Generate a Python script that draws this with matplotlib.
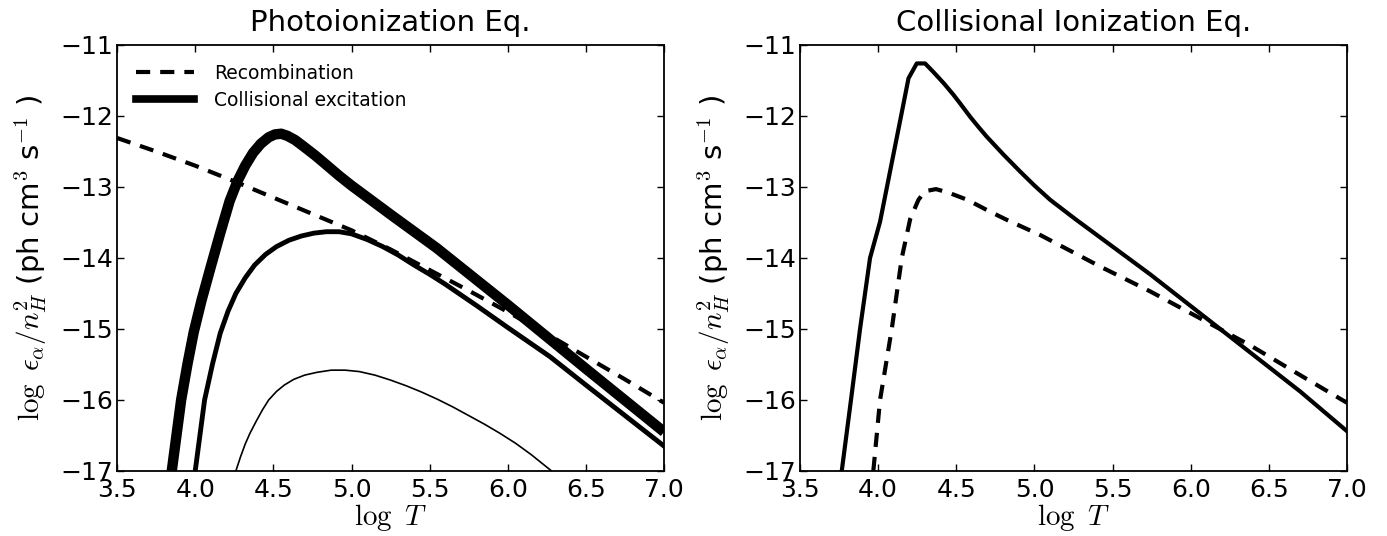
import numpy as np
import matplotlib
matplotlib.use('Agg')
import matplotlib.pyplot as plt
from matplotlib.lines import Line2D

plt.rcParams['mathtext.fontset'] = 'cm'
plt.rcParams['font.family'] = 'DejaVu Sans'

# Photoionization panel
recomb_x = [3.5, 3.75, 4.0, 4.25, 4.5, 4.75, 5.0, 5.25, 5.5, 5.75, 6.0, 6.25, 6.5, 6.75, 7.0]
recomb_y = [-12.31, -12.5, -12.7, -12.92, -13.15, -13.38, -13.61, -13.88, -14.17, -14.46,
            -14.76, -15.07, -15.39, -15.71, -16.04]

thick_x = [3.85, 3.88, 3.91, 3.95, 3.99, 4.04, 4.10, 4.16, 4.22, 4.27, 4.32, 4.37, 4.42,
           4.47, 4.51, 4.55, 4.59, 4.64, 4.70, 4.77, 4.84, 4.92, 5.0, 5.27, 5.545, 6.0,
           6.5, 7.0]
thick_y = [-17.0, -16.5, -16.0, -15.5, -15.05, -14.6, -14.12, -13.65, -13.2, -12.92, -12.7,
           -12.52, -12.39, -12.3, -12.26, -12.25, -12.28, -12.34, -12.44, -12.56, -12.69,
           -12.84, -12.98, -13.42, -13.86, -14.66, -15.56, -16.45]

mid_x = [4.0, 4.03, 4.06, 4.11, 4.16, 4.21, 4.26, 4.32, 4.38, 4.45, 4.52, 4.6, 4.68, 4.76,
         4.84, 4.92, 5.0, 5.1, 5.2, 5.3, 5.4, 5.5, 5.6, 5.8, 6.0, 6.27, 6.5, 6.75, 7.0]
mid_y = [-17.0, -16.5, -16.0, -15.5, -15.06, -14.75, -14.5, -14.28, -14.1, -13.95, -13.84,
         -13.75, -13.69, -13.65, -13.63, -13.63, -13.66, -13.74, -13.84, -13.96, -14.1,
         -14.23, -14.37, -14.67, -14.98, -15.39, -15.79, -16.22, -16.65]

thin_x = [4.26, 4.29, 4.32, 4.35, 4.39, 4.43, 4.47, 4.52, 4.57, 4.63, 4.70, 4.78, 4.87,
          4.96, 5.05, 5.15, 5.25, 5.35, 5.45, 5.55, 5.65, 5.75, 5.85, 5.95, 6.05, 6.15, 6.28]
thin_y = [-17.0, -16.8, -16.62, -16.47, -16.3, -16.14, -16.0, -15.88, -15.79, -15.71, -15.65,
          -15.61, -15.58, -15.58, -15.6, -15.65, -15.72, -15.8, -15.89, -15.99, -16.1,
          -16.22, -16.34, -16.47, -16.61, -16.77, -17.0]

# Collisional ionization panel
cie_solid_x = [3.767, 3.826, 3.884, 3.948, 4.012, 4.152, 4.194, 4.247, 4.30, 4.353, 4.42,
               4.481, 4.53, 4.588, 4.64, 4.694, 4.8, 4.907, 5.0, 5.1, 5.26, 5.42, 5.58,
               5.74, 6.06, 6.38, 6.70, 7.0]
cie_solid_y = [-17.0, -16.0, -15.0, -14.0, -13.49, -11.94, -11.47, -11.26, -11.26, -11.38,
               -11.54, -11.70, -11.84, -12.01, -12.15, -12.29, -12.54, -12.78, -12.98,
               -13.18, -13.45, -13.71, -13.97, -14.23, -14.78, -15.33, -15.88, -16.44]

cie_dash_x = [3.969, 4.012, 4.087, 4.151, 4.205, 4.258, 4.30, 4.37, 4.45, 4.57, 4.7, 4.82,
              5.04, 5.23, 5.42, 5.74, 6.06, 6.38, 6.70, 7.0]
cie_dash_y = [-17.0, -16.0, -15.0, -14.0, -13.45, -13.18, -13.06, -13.03, -13.08, -13.18,
              -13.33, -13.46, -13.68, -13.9, -14.12, -14.47, -14.85, -15.23, -15.65, -16.04]

xticks = [3.5, 4.0, 4.5, 5.0, 5.5, 6.0, 6.5, 7.0]
yticks = [-17, -16, -15, -14, -13, -12, -11]

dash = (0, (3.4, 2.4))

fig = plt.figure(figsize=(13.87, 5.36), dpi=100)
ax1 = fig.add_axes([0.0844, 0.1213, 0.3944, 0.7948])
ax2 = fig.add_axes([0.5768, 0.1213, 0.3944, 0.7948])

ax1.plot(recomb_x, recomb_y, color='k', lw=3, linestyle=dash)
ax1.plot(thick_x, thick_y, color='k', lw=7.5, solid_capstyle='butt')
ax1.plot(mid_x, mid_y, color='k', lw=3.5)
ax1.plot(thin_x, thin_y, color='k', lw=1.2)

handles = [Line2D([], [], color='k', lw=3, linestyle=dash),
           Line2D([], [], color='k', lw=5.5)]
ax1.legend(handles, ['Recombination', 'Collisional excitation'], loc='upper left',
           frameon=False, fontsize=13.5, handlelength=3.1, borderaxespad=0.6,
           labelspacing=0.42, handletextpad=1.07)
ax1.set_title('Photoionization Eq.', fontsize=21, pad=10)

ax2.plot(cie_solid_x, cie_solid_y, color='k', lw=3)
ax2.plot(cie_dash_x, cie_dash_y, color='k', lw=3, linestyle=dash)
ax2.set_title('Collisional Ionization Eq.', fontsize=21, pad=10)

for ax in (ax1, ax2):
    ax.set_xlim(3.5, 7.0)
    ax.set_ylim(-17, -11)
    ax.set_xticks(xticks)
    ax.set_yticks(yticks)
    ax.set_xticklabels(['%.1f' % t for t in xticks])
    ax.set_yticklabels(['\u2212%d' % abs(t) for t in yticks])
    ax.tick_params(direction='in', top=True, right=True, length=5, width=1,
                   labelsize=18)
    ax.tick_params(axis='x', pad=5)
    ax.tick_params(axis='y', pad=3)
    for s in ax.spines.values():
        s.set_linewidth(1.3)
    ax.set_xlabel(r'$\log\ T$', fontsize=21, labelpad=0)
    ax.set_ylabel(r'$\log\ \epsilon_\alpha/n_H^2$ (ph cm$^3$ s$^{-1}$ )', fontsize=21,
                  labelpad=8)

fig.savefig('out.png', dpi=100)
